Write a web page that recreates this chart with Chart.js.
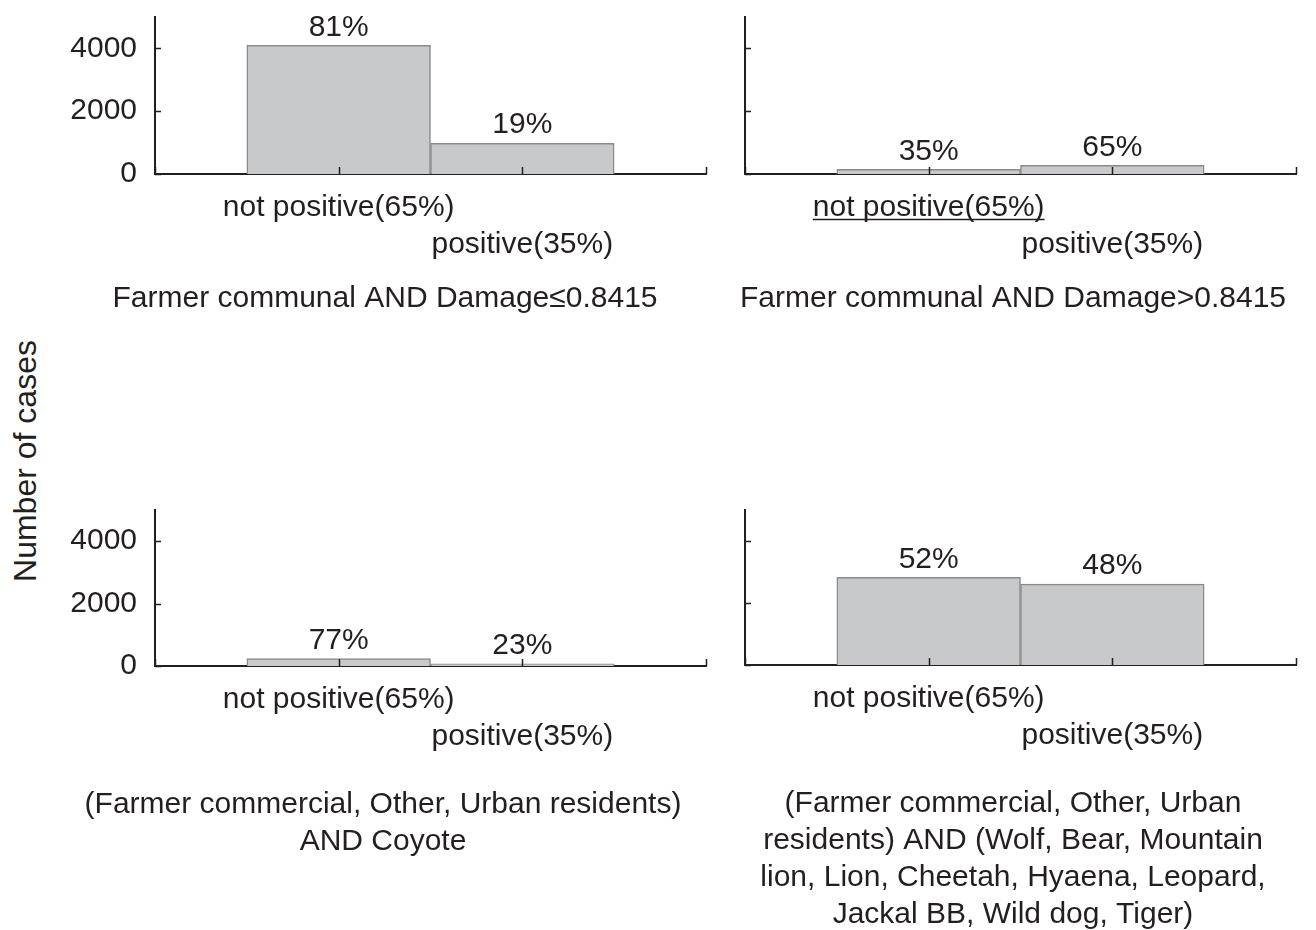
<!DOCTYPE html>
<html>
<head>
<meta charset="utf-8">
<script src="https://cdn.jsdelivr.net/npm/chart.js@4.4.1/dist/chart.umd.min.js"></script>
<style>
  html, body { margin: 0; padding: 0; background: #fff; overflow: hidden; }
  body { width: 1316px; height: 930px; position: relative; }
  canvas { position: absolute; }
  #ytitle {
    position: absolute; left: 25px; top: 461px;
    transform: translate(-50%, -50%) rotate(-90deg);
    font: 32px "Liberation Sans", Arial, sans-serif; color: #231f20; white-space: nowrap;
  }
</style>
</head>
<body>
<canvas id="p1" width="650" height="319" style="left:64px;top:-2px"></canvas>
<canvas id="p2" width="586" height="319" style="left:730px;top:-2px"></canvas>
<canvas id="p3" width="650" height="369" style="left:60px;top:491px"></canvas>
<canvas id="p4" width="586" height="442" style="left:730px;top:491px"></canvas>
<div id="ytitle">Number of cases</div>
<script>
// data
const categories = ['not positive(65%)', 'positive(35%)']
const yTickLabels = [0, 2000, 4000]
const yMax = 5000

const titleA = 'Farmer communal AND Damage≤0.8415'
const casesA = [4100, 980]
const pctA = ['81%', '19%']

const titleB = 'Farmer communal AND Damage>0.8415'
const casesB = [150, 275]
const pctB = ['35%', '65%']

const titleC = ['(Farmer commercial, Other, Urban residents)', 'AND Coyote']
const casesC = [240, 72]
const pctC = ['77%', '23%']

const titleD = ['(Farmer commercial, Other, Urban', 'residents) AND (Wolf, Bear, Mountain', 'lion, Lion, Cheetah, Hyaena, Leopard,', 'Jackal BB, Wild dog, Tiger)']
const casesD = [2830, 2610]
const pctD = ['52%', '48%']

const ink = '#231f20'
const fontFamily = '"Liberation Sans", Arial, sans-serif'
Chart.defaults.font.family = fontFamily
Chart.defaults.font.size = 30
Chart.defaults.color = ink

// short ticks pointing into the plot, like the original figure
const innerTicks = {
  id: 'innerTicks',
  afterDraw(chart) {
    const {ctx, chartArea, scales} = chart
    ctx.save()
    ctx.strokeStyle = ink
    ctx.lineWidth = 1.5
    ctx.beginPath()
    scales.y.ticks.forEach(t => {
      const py = Math.round(scales.y.getPixelForValue(t.value)) + 0.5
      ctx.moveTo(chartArea.left, py)
      ctx.lineTo(chartArea.left + 6, py)
    })
    scales.x.ticks.forEach(t => {
      const px = Math.round(scales.x.getPixelForValue(t.value)) + 0.5
      ctx.moveTo(px, chartArea.bottom)
      ctx.lineTo(px, chartArea.bottom - 7)
    })
    ctx.stroke()
    ctx.restore()
  }
}

// percentages above bars + optional underline of first category label
const pctLabels = {
  id: 'pctLabels',
  afterDatasetsDraw(chart, args, opts) {
    const {ctx} = chart
    const meta = chart.getDatasetMeta(0)
    ctx.save()
    ctx.font = '30px ' + fontFamily
    ctx.fillStyle = ink
    ctx.textAlign = 'center'
    ctx.textBaseline = 'middle'
    meta.data.forEach((bar, i) => {
      ctx.fillText(opts.labels[i], bar.x, bar.y - 18)
    })
    if (opts.underline) {
      const x = chart.scales.x
      const cx = x.getPixelForValue(1)
      const w = ctx.measureText(categories[0]).width
      const uy = x.top + 15 + 18.5 + 12
      ctx.strokeStyle = ink
      ctx.lineWidth = 1.5
      ctx.beginPath()
      ctx.moveTo(cx - w / 2, uy)
      ctx.lineTo(cx + w / 2, uy)
      ctx.stroke()
    }
    ctx.restore()
  }
}

const makePanel = (id, title, values, pcts, opt) => {
  const data = {
    datasets: [{
      data: values.map((v, i) => ({x: i + 1, y: v})),
      backgroundColor: '#c8c9cb',
      borderColor: '#8a8a8a',
      borderWidth: 1.5,
      barPercentage: 1,
      categoryPercentage: 1
    }]
  }
  const config = {
    type: 'bar',
    data: data,
    options: {
      responsive: false,
      animation: false,
      layout: {padding: {top: 19, right: opt.right, left: 0, bottom: 0}},
      plugins: {
        legend: {display: false},
        tooltip: {enabled: false},
        title: {
          display: true,
          position: 'bottom',
          text: title,
          color: ink,
          font: {size: 30, weight: 'normal', lineHeight: 37 / 30},
          padding: {top: opt.titlePad, bottom: 0}
        },
        pctLabels: {labels: pcts, underline: !!opt.underline}
      },
      scales: {
        x: {
          type: 'linear',
          min: 0,
          max: 3,
          offset: false,
          grid: {display: false, drawTicks: false, offset: false},
          border: {display: true, color: ink, width: 2},
          ticks: {
            stepSize: 1,
            autoSkip: false,
            maxRotation: 0,
            minRotation: 0,
            padding: 15,
            color: ink,
            font: {size: 30, lineHeight: 37 / 30},
            callback: v => v === 1 ? [categories[0], ''] : (v === 2 ? ['', categories[1]] : '')
          },
          afterFit: s => { s.height = 100; s.paddingLeft = 0; s.paddingRight = 0 }
        },
        y: {
          min: 0,
          max: yMax,
          grid: {display: false, drawTicks: false},
          border: {display: true, color: ink, width: 2},
          ticks: {
            stepSize: 1000,
            padding: 18,
            color: ink,
            font: {size: 30},
            callback: v => (opt.yLabels && yTickLabels.indexOf(v) !== -1) ? String(v) : ''
          },
          afterFit: s => { s.width = opt.yWidth; s.paddingTop = 0; s.paddingBottom = 0 }
        }
      }
    },
    plugins: [innerTicks, pctLabels]
  }
  return new Chart(document.getElementById(id), config)
}

makePanel('p1', titleA, casesA, pctA, {right: 8, yWidth: 91, yLabels: true, titlePad: 6})
makePanel('p2', titleB, casesB, pctB, {right: 20, yWidth: 15, yLabels: false, titlePad: 6, underline: true})
makePanel('p3', titleC, casesC, pctC, {right: 4, yWidth: 95, yLabels: true, titlePad: 20})
makePanel('p4', titleD, casesD, pctD, {right: 20, yWidth: 15, yLabels: false, titlePad: 20})
</script>
</body>
</html>
